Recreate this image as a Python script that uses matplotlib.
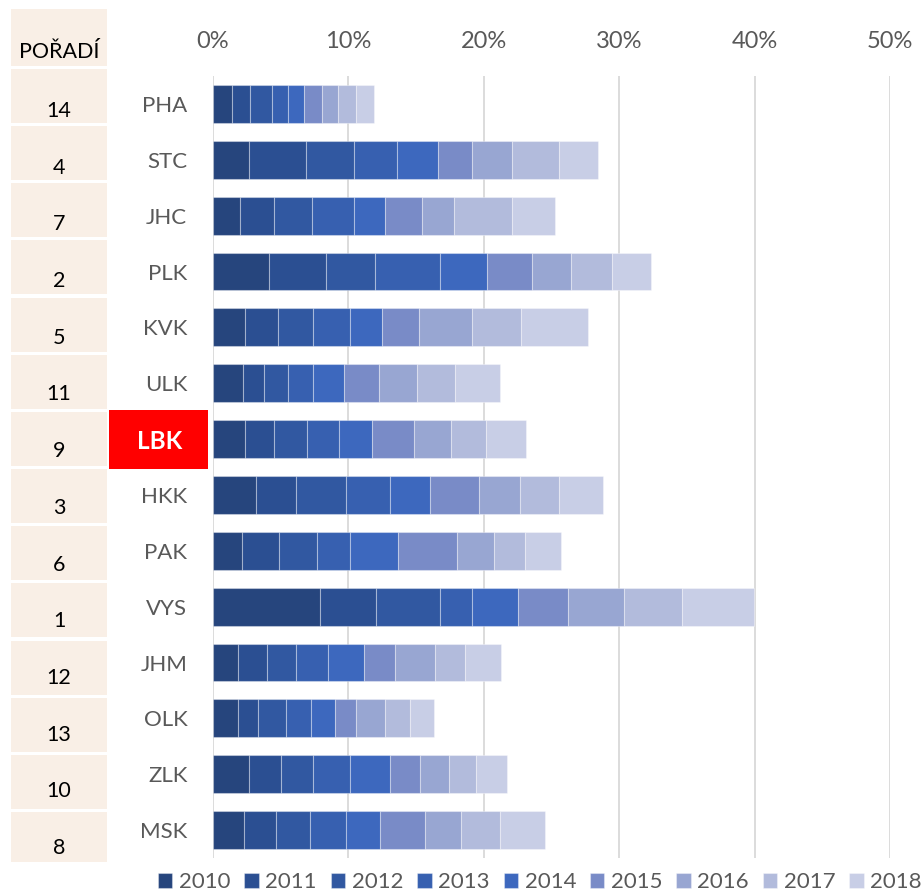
import matplotlib
matplotlib.use("Agg")
import matplotlib.pyplot as plt
from matplotlib.patches import Rectangle
import matplotlib.transforms as mtransforms
import numpy as np

regions = ["PHA", "STC", "JHC", "PLK", "KVK", "ULK", "LBK", "HKK", "PAK", "VYS", "JHM", "OLK", "ZLK", "MSK"]
ranks = [14, 4, 7, 2, 5, 11, 9, 3, 6, 1, 12, 13, 10, 8]
years = ["2010", "2011", "2012", "2013", "2014", "2015", "2016", "2017", "2018"]

y2010 = [1.44, 2.68, 1.96, 4.10, 2.40, 2.21, 2.33, 3.21, 2.13, 7.87, 1.82, 1.82, 2.68, 2.26]
y2011 = [1.31, 4.19, 2.56, 4.27, 2.43, 1.52, 2.14, 2.95, 2.77, 4.15, 2.14, 1.52, 2.31, 2.36]
y2012 = [1.64, 3.54, 2.82, 3.61, 2.56, 1.84, 2.50, 3.66, 2.76, 4.71, 2.14, 2.02, 2.43, 2.58]
y2013 = [1.18, 3.17, 3.09, 4.79, 2.75, 1.84, 2.34, 3.27, 2.48, 2.43, 2.43, 1.91, 2.73, 2.63]
y2014 = [1.16, 3.05, 2.27, 3.44, 2.36, 2.27, 2.41, 2.92, 3.54, 3.35, 2.63, 1.75, 2.95, 2.53]
y2015 = [1.32, 2.48, 2.72, 3.34, 2.70, 2.57, 3.11, 3.61, 4.33, 3.70, 2.30, 1.55, 2.21, 3.32]
y2016 = [1.20, 2.95, 2.36, 2.88, 3.90, 2.80, 2.73, 3.03, 2.75, 4.12, 2.93, 2.16, 2.11, 2.65]
y2017 = [1.31, 3.46, 4.28, 3.02, 3.62, 2.81, 2.58, 2.87, 2.26, 4.30, 2.21, 1.82, 2.02, 2.90]
y2018 = [1.35, 2.95, 3.19, 2.92, 4.99, 3.31, 2.95, 3.32, 2.67, 5.34, 2.65, 1.79, 2.30, 3.29]
series = [y2010, y2011, y2012, y2013, y2014, y2015, y2016, y2017, y2018]

colors = ["#26457D", "#2B4F92", "#3158A1", "#3760B0", "#3D68BE",
          "#798BC7", "#98A6D2", "#B2BBDC", "#C8CEE6"]

W, H = 923, 892
fig = plt.figure(figsize=(W / 100, H / 100), dpi=100)
plt.rcParams['font.family'] = ['Lato', 'DejaVu Sans']

def fx(px):
    return px / W

def fy(py):
    return 1 - py / H

ax_left, ax_right, ax_top, ax_bottom = 213, 890, 76, 858
ax = fig.add_axes([fx(ax_left), fy(ax_bottom), fx(ax_right - ax_left), (ax_bottom - ax_top) / H])
ax.set_zorder(2)

ypos = np.arange(len(regions))
left = np.zeros(len(regions))
handles = []
for yr, vals, c in zip(years, series, colors):
    b = ax.barh(ypos, vals, left=left, height=0.68, color=c,
                edgecolor=(1, 1, 1, 0.35), linewidth=0.8, label=yr, zorder=3)
    handles.append(b)
    left = left + np.array(vals)

ax.set_xlim(0, 50)
ax.set_ylim(len(regions) - 0.5, -0.5)
ax.set_xticks([0, 10, 20, 30, 40, 50])
ax.set_xticklabels([f"{t}%" for t in [0, 10, 20, 30, 40, 50]])
ax.xaxis.tick_top()
ax.tick_params(axis='x', length=0, pad=17, labelsize=17, labelcolor="#595959")
ax.set_yticks(ypos)
ax.set_yticklabels(regions)
ax.tick_params(axis='y', length=0, pad=18.5, labelsize=16, labelcolor="#595959")
ax.grid(axis='x', color="#D9D9D9", linewidth=1.3, zorder=0)
for s in ax.spines.values():
    s.set_visible(False)

for lbl in ax.get_yticklabels():
    if lbl.get_text() == "LBK":
        lbl.set_color("white")
        lbl.set_fontweight("bold")
        lbl.set_fontsize(17.5)
        lbl.set_transform(lbl.get_transform() +
                          mtransforms.ScaledTranslation(-5 / 100, 0, fig.dpi_scale_trans))

# red highlight box for LBK
fig.patches.append(Rectangle((fx(109), fy(469)), fx(208 - 109), (469 - 410) / H,
                             transform=fig.transFigure, facecolor="#FF0000",
                             edgecolor="none", zorder=-1))

# ranking table
beige = "#F9EFE6"
fig.patches.append(Rectangle((fx(11), fy(66)), fx(96), (66 - 9) / H,
                             transform=fig.transFigure, facecolor=beige, edgecolor="none", zorder=-1))
fig.text(fx(59), fy(52), "POŘADÍ", ha="center", va="center", fontsize=15.5, color="black")
for i, r in enumerate(ranks):
    top = 69 + i * 57.15
    bot = min(top + 54, 862)
    fig.patches.append(Rectangle((fx(11), fy(bot)), fx(96), (bot - top) / H,
                                 transform=fig.transFigure, facecolor=beige, edgecolor="none", zorder=-1))
    fig.text(fx(59), fy(111 + i * 56.7), str(r), ha="center", va="center", fontsize=15.5, color="black")

leg = fig.legend(handles=handles, labels=years, loc="center", ncol=9,
                 bbox_to_anchor=(fx(540), fy(882)), frameon=False, fontsize=16,
                 handlelength=0.65, handleheight=0.65, handletextpad=0.3,
                 columnspacing=0.62, borderpad=0)
for t in leg.get_texts():
    t.set_color("#595959")

fig.savefig("out.png", dpi=100)
